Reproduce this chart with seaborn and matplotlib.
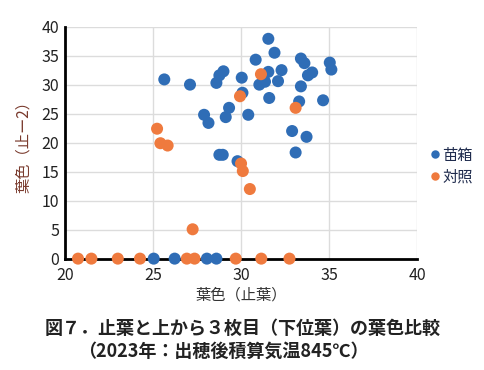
import matplotlib
matplotlib.use("Agg")
import matplotlib.pyplot as plt
import seaborn as sns
import pandas as pd

# 苗箱 (blue)
nae_x = [31.55, 31.9, 30.83, 33.4, 33.6, 35.04, 35.13, 32.3, 31.55, 29.0,
         28.77, 30.04, 25.64, 28.6, 27.1, 31.04, 31.36, 32.1, 33.8, 34.04,
         33.4, 30.08, 31.6, 33.3, 34.66, 29.32, 29.13, 27.9, 28.15, 30.41,
         32.9, 33.72, 33.1, 28.77, 28.96, 29.8,
         25.04, 26.23, 28.06, 28.6]
nae_y = [37.9, 35.5, 34.3, 34.5, 33.7, 33.8, 32.6, 32.5, 32.2, 32.3,
         31.6, 31.2, 30.9, 30.3, 30.0, 30.0, 30.5, 30.6, 31.6, 32.1,
         29.7, 28.6, 27.7, 27.1, 27.3, 26.0, 24.4, 24.8, 23.4, 24.8,
         22.0, 21.0, 18.3, 17.9, 17.9, 16.8,
         0, 0, 0, 0]

# 対照 (orange)
ctrl_x = [31.13, 29.94, 33.1, 25.23, 25.42, 25.83, 30.0, 30.1, 30.5, 27.25,
          20.74, 21.5, 23.0, 24.26, 26.92, 27.36, 29.7, 31.15, 32.75]
ctrl_y = [31.8, 28.0, 26.0, 22.4, 19.9, 19.5, 16.4, 15.1, 12.0, 5.06,
          0, 0, 0, 0, 0, 0, 0, 0, 0]

df = pd.DataFrame({
    "x": nae_x + ctrl_x,
    "y": nae_y + ctrl_y,
    "group": ["苗箱"] * len(nae_x) + ["対照"] * len(ctrl_x),
})

sns.set_style("white")
plt.rcParams["font.family"] = ["Noto Sans CJK JP", "DejaVu Sans"]

fig = plt.figure(figsize=(4.85, 3.70), dpi=100)
ax = fig.add_axes([0.134, 0.301, 0.726, 0.627])

sns.scatterplot(data=df, x="x", y="y", hue="group",
                palette={"苗箱": "#2f6db6", "対照": "#ef7a3e"},
                s=75, edgecolor="none", ax=ax, zorder=3, clip_on=False)

ax.set_xlim(20, 40)
ax.set_ylim(0, 40)
ax.set_xticks(range(20, 41, 5))
ax.set_yticks(range(0, 41, 5))
ax.grid(True, color="#dcdcdc", linewidth=1)
for s in ["top", "right"]:
    ax.spines[s].set_visible(False)
for s in ["left", "bottom"]:
    ax.spines[s].set_color("black")
    ax.spines[s].set_linewidth(2)
ax.tick_params(axis="both", direction="in", length=4, width=1.5,
               labelsize=11.5, labelcolor="#222222", pad=4)
ax.tick_params(axis="x", pad=6)

ax.set_xlabel("葉色（止葉）", fontsize=11, color="#333333", labelpad=2)
ax.set_ylabel("葉色（止ー2）", fontsize=11, color="#7a3b2e", labelpad=7)

leg = ax.legend(loc="center left", bbox_to_anchor=(0.99, 0.40), frameon=False,
                handletextpad=0.0, labelspacing=0.3, fontsize=11,
                markerscale=0.7, handlelength=1.0)
for t in leg.get_texts():
    t.set_color("#1f2b4d")

fig.text(0.5, 0.098, "図７．止葉と上から３枚目（下位葉）の葉色比較",
         ha="center", fontsize=13, fontweight="bold", color="#222222")
fig.text(0.46, 0.035, "（2023年：出穂後積算気温845℃）",
         ha="center", fontsize=13, fontweight="bold", color="#222222")

fig.savefig("out.png", dpi=100)
